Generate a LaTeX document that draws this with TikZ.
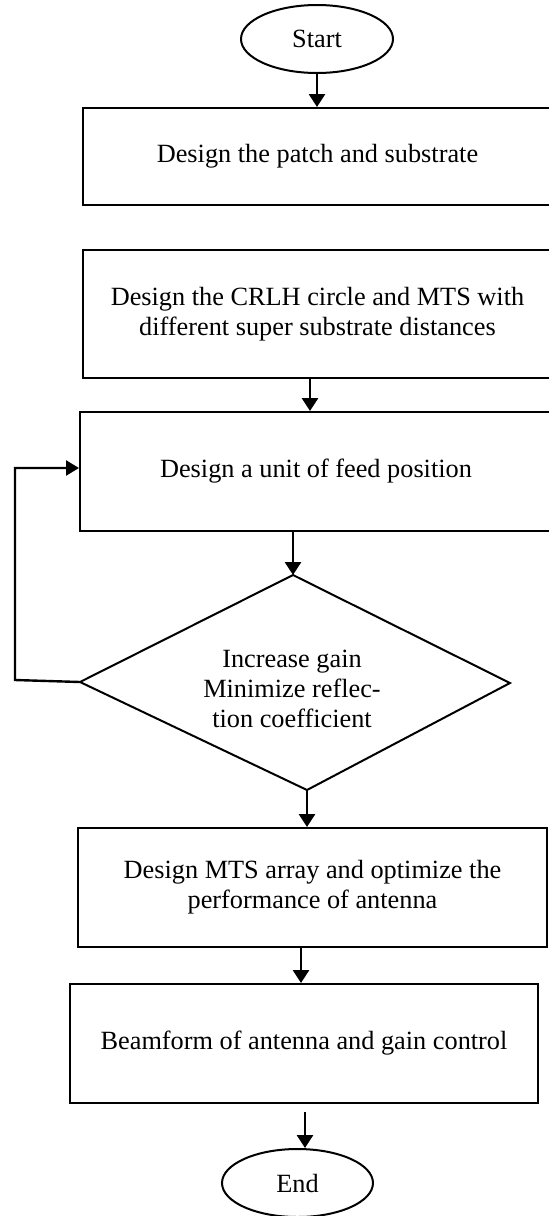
\documentclass[tikz,border=0pt]{standalone}
\usepackage{fontspec}
\setmainfont{Liberation Serif}
\usetikzlibrary{shapes.geometric,arrows.meta,calc}
\tikzset{
  stepbox/.style={draw, line width=2pt, rectangle, inner sep=0pt, align=center},
  termnode/.style={draw, line width=2pt, ellipse, inner sep=0pt},
  arr/.style={line width=2.8pt, -{Triangle[length=13pt,width=16pt]}},
  fbline/.style={line width=2.4pt, line join=miter, -{Triangle[length=13pt,width=15pt]}},
}
\begin{document}
\begin{tikzpicture}[x=1pt,y=-1pt,font=\fontsize{26.3}{30}\selectfont]
\useasboundingbox (0,0) rectangle (549,1216);
\node[termnode, minimum width=152pt, minimum height=68pt] (start) at (317,39) {Start};
\node[stepbox, minimum width=469pt, minimum height=97pt] (box1) at (317.5,156.5) {Design the patch and substrate};
\node[stepbox, minimum width=469pt, minimum height=128pt] (box2) at (317.5,314) {Design the CRLH circle and MTS with\\different super substrate distances};
\node[stepbox, minimum width=472pt, minimum height=119pt] (box3) at (316,471.5) {Design a unit of feed position};
\coordinate (dtop) at (293,575);
\coordinate (dleft) at (80,682);
\coordinate (dright) at (510,683);
\coordinate (dbot) at (307,790);
\draw[line width=2pt, line join=miter] (dtop) -- (dright) -- (dbot) -- (dleft) -- cycle;
\node[align=center, inner sep=0pt] (dtext) at (292,689) {Increase gain\\Minimize reflec-\\tion coefficient};
\node[stepbox, minimum width=469pt, minimum height=119pt] (box4) at (312.5,887.5) {Design MTS array and optimize the\\performance of antenna};
\node[stepbox, minimum width=468pt, minimum height=119pt] (box5) at (304,1043.5) {Beamform of antenna and gain control};
\node[termnode, minimum width=151pt, minimum height=68pt] (end) at (297.5,1183) {End};
\coordinate (e0) at (305,1112);
\coordinate (fbl) at (15,680);
\coordinate (fbu) at (15,468);
\coordinate (a23) at ($(box2.south)+(-7.5,0)$);
\coordinate (a45) at ($(box4.south)+(-11.5,0)$);
% connectors
\draw[arr] (start.south) -- (start.south |- box1.north);
\draw[arr] (a23) -- (a23 |- box3.north);
\draw[arr] (box3.south -| dtop) -- (dtop);
\draw[fbline] (dleft) -- (fbl) -- (fbu) -- (fbu -| box3.west);
\draw[arr] (dbot) -- (dbot |- box4.north);
\draw[arr] (a45) -- (a45 |- box5.north);
\draw[arr] (e0) -- (e0 |- end.north);
\end{tikzpicture}
\end{document}
